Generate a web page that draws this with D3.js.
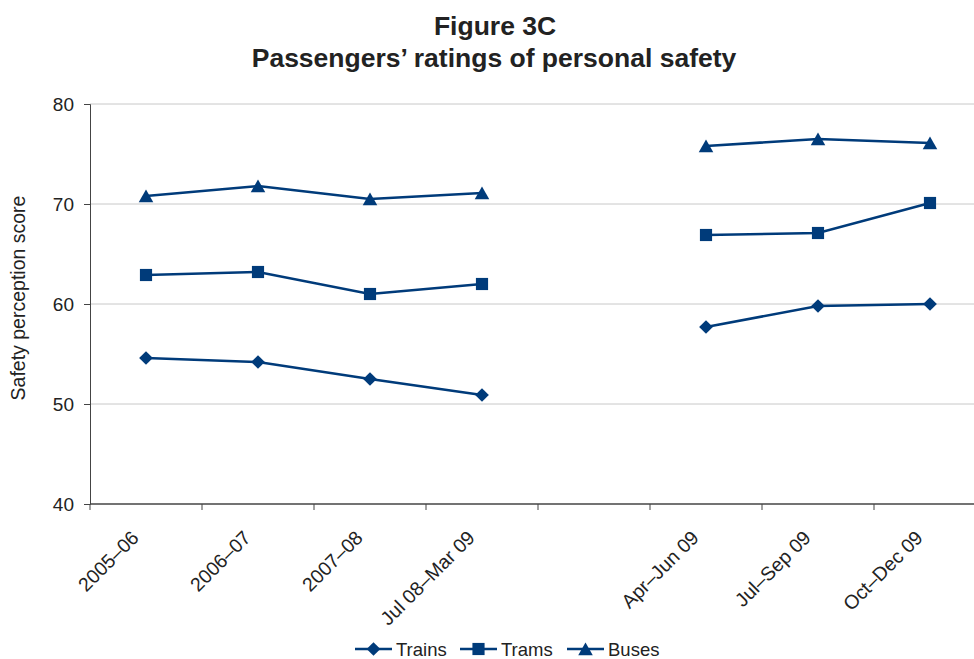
<!DOCTYPE html>
<html>
<head>
<meta charset="utf-8">
<script src="https://cdn.jsdelivr.net/npm/d3@7"></script>
<style>
  body { margin: 0; background: #fff; }
  text { font-family: "Liberation Sans", Arial, sans-serif; fill: #222; }
</style>
</head>
<body>
<div id="chart"></div>
<script>
// categories (blank slot between the two survey periods)
const categories = ["2005–06", "2006–07", "2007–08", "Jul 08–Mar 09", "", "Apr–Jun 09", "Jul–Sep 09", "Oct–Dec 09"];
const trains = [54.6, 54.2, 52.5, 50.9, null, 57.7, 59.8, 60.0];
const trams  = [62.9, 63.2, 61.0, 62.0, null, 66.9, 67.1, 70.1];
const buses  = [70.8, 71.8, 70.5, 71.1, null, 75.8, 76.5, 76.1];
const yTicks = [40, 50, 60, 70, 80];

// dy moves the triangle so its box, not its centroid, sits on the point
const series = [
  {name: "Trains", values: trains, symbol: d3.symbolDiamond2, size: 120, dy: 0},
  {name: "Trams", values: trams, symbol: d3.symbolSquare, size: 148, dy: 0},
  {name: "Buses", values: buses, symbol: d3.symbolTriangle, size: 92, dy: 2}
];

const W = 974, H = 659, color = "#003b7a";
const margin = {left: 90};

const svg = d3.select("#chart").append("svg")
  .attr("width", W).attr("height", H);

//--------------------------- TITLE
svg.append("text").attr("x", 495).attr("y", 35)
  .attr("text-anchor", "middle").attr("font-size", 26.5).attr("font-weight", "bold")
  .text("Figure 3C");
svg.append("text").attr("x", 494).attr("y", 67)
  .attr("text-anchor", "middle").attr("font-size", 26.5).attr("font-weight", "bold")
  .text("Passengers’ ratings of personal safety");

//--------------------------- SCALES
const x = d3.scaleBand().domain(d3.range(categories.length))
  .range([margin.left, margin.left + 112 * categories.length]);
const y = d3.scaleLinear().domain([40, 80]).range([504, 104]);

// gridlines
svg.append("g").selectAll("line")
  .data(yTicks.filter(d => d > 40)).join("line")
  .attr("x1", margin.left).attr("x2", W)
  .attr("y1", d => y(d)).attr("y2", d => y(d))
  .attr("stroke", "#c8c8c8").attr("stroke-width", 1);

//--------------------------- AXES
const yAxis = svg.append("g").attr("transform", `translate(${margin.left},0)`)
  .call(d3.axisLeft(y).tickValues(yTicks).tickSize(6).tickPadding(10));
yAxis.select(".domain").attr("stroke", "#444");
yAxis.selectAll(".tick line").attr("stroke", "#444");
yAxis.selectAll("text").attr("font-size", 19).attr("font-family", "Liberation Sans, Arial, sans-serif").attr("fill", "#222");

const xAxisG = svg.append("g").attr("transform", `translate(0,${y(40)})`);
xAxisG.append("line").attr("x1", margin.left).attr("x2", W)
  .attr("stroke", "#444").attr("stroke-width", 1.5);
xAxisG.selectAll(".tk").data(d3.range(categories.length + 1)).join("line")
  .attr("class", "tk")
  .attr("x1", d => margin.left + d * x.step()).attr("x2", d => margin.left + d * x.step())
  .attr("y1", 0).attr("y2", 6).attr("stroke", "#444");
xAxisG.selectAll(".lbl").data(categories).join("text")
  .attr("class", "lbl")
  .attr("text-anchor", "end").attr("font-size", 19.5)
  .attr("transform", (d, i) => `translate(${x(i) + x.bandwidth() / 2 - 6},${35}) rotate(-45)`)
  .text(d => d);

svg.append("text")
  .attr("transform", `translate(25,298) rotate(-90)`)
  .attr("text-anchor", "middle").attr("font-size", 19.5)
  .text("Safety perception score");

//--------------------------- LINES
const line = d3.line()
  .defined(d => d != null)
  .x((d, i) => x(i) + x.bandwidth() / 2)
  .y(d => y(d));

series.forEach(s => {
  svg.append("path").datum(s.values)
    .attr("d", line).attr("fill", "none")
    .attr("stroke", color).attr("stroke-width", 2.5);
  svg.append("g").selectAll("path")
    .data(s.values.map((v, i) => ({v, i})).filter(d => d.v != null))
    .join("path")
    .attr("d", d3.symbol(s.symbol, s.size))
    .attr("transform", d => `translate(${x(d.i) + x.bandwidth() / 2},${y(d.v) + s.dy})`)
    .attr("fill", color);
});

//--------------------------- LEGEND
const legendX = [355, 460, 567];
const legend = svg.append("g").selectAll("g").data(series).join("g")
  .attr("transform", (d, i) => `translate(${legendX[i]},649)`);
legend.append("line").attr("x1", 0).attr("x2", 37)
  .attr("stroke", color).attr("stroke-width", 2.5);
legend.append("path")
  .attr("d", d => d3.symbol(d.symbol, d.size)())
  .attr("transform", d => `translate(18.5,${d.dy})`).attr("fill", color);
legend.append("text").attr("x", 41).attr("y", 6.5)
  .attr("font-size", 18.5).text(d => d.name);
</script>
</body>
</html>
